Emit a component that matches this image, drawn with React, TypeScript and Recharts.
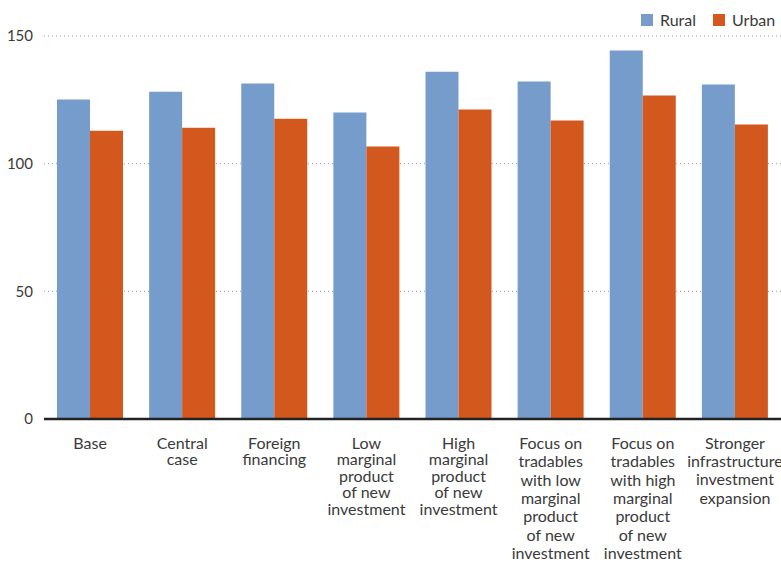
import React from "react"
import { BarChart, Bar, XAxis, YAxis, CartesianGrid } from "recharts"

const categories = [
  "Base",
  "Central\ncase",
  "Foreign\nfinancing",
  "Low\nmarginal\nproduct\nof new\ninvestment",
  "High\nmarginal\nproduct\nof new\ninvestment",
  "Focus on\ntradables\nwith low\nmarginal\nproduct\nof new\ninvestment",
  "Focus on\ntradables\nwith high\nmarginal\nproduct\nof new\ninvestment",
  "Stronger\ninfrastructure\ninvestment\nexpansion",
]
const rural = [125.1, 128.2, 131.4, 120.0, 136.0, 132.2, 144.3, 131.0]
const urban = [112.9, 114.1, 117.6, 106.7, 121.2, 116.9, 126.7, 115.3]
const yTicks = [0, 50, 100, 150]

const data = categories.map((name, i) => ({ name, rural: rural[i], urban: urban[i] }))

const FONT = "Lato, 'Open Sans', sans-serif"
const RURAL = "#769ccb"
const URBAN = "#d2581d"

function CategoryTick(props: any) {
  const { x, payload } = props
  const lines = String(payload.value).split("\n")
  const lh = lines.length > 5 ? 18.3 : lines.length === 3 || lines.length === 4 ? 18.2 : 16.4
  return (
    <text x={x} y={449} textAnchor="middle" fill="#3a3a3a" fontSize={16} fontFamily={FONT}>
      {lines.map((l, i) => (
        <tspan key={i} x={x} dy={i === 0 ? 0 : lh}>{l}</tspan>
      ))}
    </text>
  )
}

export default function App() {
  return (
    <div style={{ position: "absolute", left: 0, top: 0, width: 781, height: 564, background: "#fff", fontFamily: FONT }}>
      <div style={{ position: "absolute", top: 10, left: 641, display: "flex", alignItems: "center", fontSize: 16, color: "#3a3a3a" }}>
        <span style={{ width: 12, height: 12, background: RURAL, display: "inline-block", marginRight: 7 }} />
        <span style={{ marginRight: 17 }}>Rural</span>
        <span style={{ width: 12, height: 12, background: URBAN, display: "inline-block", marginRight: 7 }} />
        <span>Urban</span>
      </div>
      <BarChart width={781} height={564} data={data} margin={{ top: 36, right: 0, left: 0, bottom: 0 }}
        barCategoryGap={13} barGap={0}>
        <CartesianGrid horizontal vertical={false} stroke="#999" strokeDasharray="1 3" />
        <XAxis dataKey="name" height={145} interval={0} tick={<CategoryTick />} tickLine={false}
          axisLine={{ stroke: "#222", strokeWidth: 2.5 }} />
        <YAxis width={44} domain={[0, 150]} ticks={yTicks} tickLine={false} axisLine={false} tickMargin={5}
          tick={{ fontSize: 15, fill: "#3a3a3a", fontFamily: FONT }} />
        <Bar dataKey="rural" fill={RURAL} isAnimationActive={false} />
        <Bar dataKey="urban" fill={URBAN} isAnimationActive={false} />
      </BarChart>
    </div>
  )
}
